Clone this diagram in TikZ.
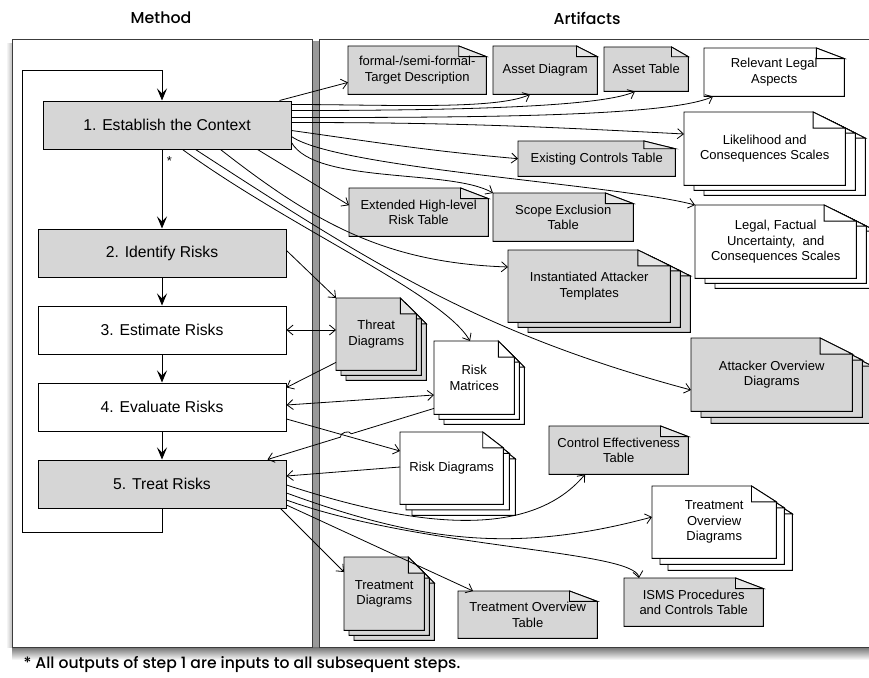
\documentclass[tikz,border=0pt]{standalone}
\usepackage{fontspec}
\setmainfont{Liberation Sans}
\newfontfamily\headfont{Poppins}[UprightFont=* Medium]
\usetikzlibrary{positioning, arrows.meta, calc, backgrounds}

\definecolor{boxgray}{HTML}{D6D6D6}
\definecolor{framegray}{HTML}{3C3C3C}

% document outline with folded corner
\newcommand{\docshape}[2]{%
  \filldraw[docline, fill=#2] (#1.south west) -- (#1.north west) -- ($(#1.north east)!0.2!(#1.north west)$) -- ($(#1.north east)!0.22!(#1.south east)$) -- (#1.south east) -- cycle;
  \filldraw[docline, fill=#2!60!white] ($(#1.north east)!0.2!(#1.north west)$) |- ($(#1.north east)!0.22!(#1.south east)$) -- cycle;
}
% three stacked documents
\newcommand{\docstack}[4]{%
  \begin{scope}[transform canvas={shift={(2*#3,-2*#4)}}]\docshape{#1}{#2}\end{scope}
  \begin{scope}[transform canvas={shift={(#3,-#4)}}]\docshape{#1}{#2}\end{scope}
  \docshape{#1}{#2}
}

\begin{document}
\begin{tikzpicture}[
    x=1pt, y=1pt,
    node distance=28pt,
    phase/.style={rectangle, draw=black, line width=1pt, fill=white, minimum width=248pt, minimum height=48pt, font=\fontsize{15.7}{18}\selectfont},
    grayphase/.style={phase, fill=boxgray},
    artifact/.style={rectangle, anchor=north west, inner sep=0pt, align=center, font=\fontsize{13}{15.5}\selectfont},
    title/.style={font=\headfont\fontsize{15.8}{19}\selectfont},
    docline/.style={draw=black, line width=0.9pt},
    flow/.style={-{Stealth[length=12pt, width=10pt, inset=5pt]}, line width=1pt},
    arrow/.style={-{Straight Barb[length=6pt, width=10pt]}, line width=0.8pt},
    dblarrow/.style={{Straight Barb[length=6pt, width=10pt]}-{Straight Barb[length=6pt, width=10pt]}, line width=0.8pt}
]
\useasboundingbox (0,0) rectangle (869,-677);

% Titles
\node[title] (methodtitle) at (161,-18) {Method};
\node[title] (artifactstitle) at (587,-18) {Artifacts};
\node[title, anchor=west, font=\headfont\fontsize{15.6}{18}\selectfont] (footnote) at (20,-665) {* All outputs of step 1 are inputs to all subsequent steps.};

% Method steps
\node[grayphase] (context) at (167,-125) {1. Establish the Context};
\node[grayphase, below=79pt of context, xshift=-5pt] (identify) {2. Identify Risks};
\node[phase, below=of identify] (estimate) {3. Estimate Risks};
\node[phase, below=of estimate] (evaluate) {4. Evaluate Risks};
\node[grayphase, below=of evaluate] (treat) {5. Treat Risks};

% Artifacts
\node[artifact, minimum width=138pt, minimum height=48pt] (targetdesc) at (348,-46) {formal-/semi-formal-\\Target Description};
\node[artifact, minimum width=104pt, minimum height=48pt] (assetdiag) at (493,-46) {Asset Diagram};
\node[artifact, minimum width=84pt, minimum height=44pt] (assettable) at (604,-47) {Asset Table};
\node[artifact, minimum width=140pt, minimum height=48pt] (legalaspects) at (704,-48) {Relevant Legal\\Aspects};
\node[artifact, minimum width=161pt, minimum height=73pt] (scales) at (684,-112) {Likelihood and\\Consequences Scales};
\node[artifact, minimum width=157pt, minimum height=35pt] (controls) at (518,-141) {Existing Controls Table};
\node[artifact, minimum width=139pt, minimum height=48pt] (hlrisk) at (349,-188) {Extended High-level\\Risk Table};
\node[artifact, minimum width=140pt, minimum height=48pt] (scope) at (493,-193) {Scope Exclusion\\Table};
\node[artifact, minimum width=161pt, minimum height=73pt] (legalscales) at (695,-205) {Legal, Factual\\Uncertainty,\ \ and\\Consequences Scales};
\node[artifact, minimum width=162pt, minimum height=72pt] (attackertpl) at (508,-250) {Instantiated Attacker\\Templates};
\node[artifact, minimum width=80pt, minimum height=72pt] (threatdiag) at (336,-298) {Threat\\Diagrams};
\node[artifact, minimum width=80pt, minimum height=73pt] (riskmatrix) at (434,-341) {Risk\\Matrices};
\node[artifact, minimum width=161pt, minimum height=73pt] (attackerov) at (691,-338) {Attacker Overview\\Diagrams};
\node[artifact, minimum width=139pt, minimum height=48pt] (controleff) at (549,-426) {Control Effectiveness\\Table};
\node[artifact, minimum width=103pt, minimum height=72pt] (riskdiag) at (400,-432) {Risk Diagrams};
\node[artifact, minimum width=124pt, minimum height=72pt] (treatov) at (652,-486) {Treatment\\Overview\\Diagrams};
\node[artifact, minimum width=139pt, minimum height=48pt] (isms) at (624,-578) {ISMS Procedures\\and Controls Table};
\node[artifact, minimum width=80pt, minimum height=73pt] (treatdiag) at (344,-557) {Treatment\\Diagrams};
\node[artifact, minimum width=139pt, minimum height=47pt] (treatovtable) at (458,-591) {Treatment Overview\\Table};

% Panels and document shapes
\begin{scope}[on background layer]
    \shade[top color=black!60, bottom color=white] (12,-646) rectangle (869,-660);
    \shade[left color=white, right color=black!25] (6,-44) rectangle (12,-647);
    \fill[black!40] (311,-41) rectangle (320,-647);
    \draw[framegray, line width=1pt, fill=white] (12,-40) rectangle (312,-647);
    \draw[framegray, line width=1pt, fill=white] (319,-40) rectangle (880,-647);
    \docshape{targetdesc}{boxgray}
    \docshape{assetdiag}{boxgray}
    \docshape{assettable}{boxgray}
    \docshape{legalaspects}{white}
    \docstack{scales}{white}{10pt}{5pt}
    \docshape{controls}{boxgray}
    \docshape{hlrisk}{boxgray}
    \docshape{scope}{boxgray}
    \docstack{legalscales}{white}{10pt}{5pt}
    \docstack{attackertpl}{boxgray}{10pt}{5pt}
    \docstack{threatdiag}{boxgray}{5pt}{5pt}
    \docstack{riskmatrix}{white}{5pt}{5pt}
    \docstack{attackerov}{boxgray}{10pt}{6pt}
    \docshape{controleff}{boxgray}
    \docstack{riskdiag}{white}{6pt}{5.5pt}
    \docstack{treatov}{white}{8pt}{6pt}
    \docshape{isms}{boxgray}
    \docstack{treatdiag}{boxgray}{5pt}{5pt}
    \docshape{treatovtable}{boxgray}
\end{scope}

% Method flow
\coordinate (loopcorner) at (22,-532);
\draw[flow] ([xshift=-5pt]context.south) -- node[pos=0.14, right=1pt, font=\fontsize{13}{15}\selectfont] {*} (identify.north);
\draw[flow] (identify) -- (estimate);
\draw[flow] (estimate) -- (evaluate);
\draw[flow] (evaluate) -- (treat);
\draw[flow, line width=0.9pt] (treat.south) |- (loopcorner) |- ([xshift=-5pt, yshift=30pt]context.north) -- ([xshift=-5pt]context.north);

% Outputs of step 1
\draw[arrow] ([xshift=-12pt]context.north east) -- ([yshift=12pt]targetdesc.south west);
\draw[arrow] ([yshift=-4pt]context.north east) to[out=0, in=205, in looseness=0.4] ([xshift=37pt]assetdiag.south west);
\draw[arrow] ([yshift=-10pt]context.north east) to[out=0, in=205, in looseness=0.3] ([xshift=31pt]assettable.south west);
\draw[arrow] ([yshift=-17pt]context.north east) to[out=0, in=205, in looseness=0.3] ([xshift=9pt]legalaspects.south west);
\draw[arrow] ([yshift=-22pt]context.north east) to[out=0, in=177] ([yshift=-22pt]scales.north west);
\draw[arrow] ([yshift=-30pt]context.north east) to[out=-8, in=175] (controls.west);
\draw[arrow] ([yshift=-36pt]context.north east) to[out=-35, in=165, out looseness=0.35, in looseness=0.5] (legalscales.north west);
\draw[arrow] ([yshift=-42pt]context.north east) to[out=-60, in=150, looseness=0.6] (scope.north west);
\draw[arrow] ([xshift=-34pt]context.south east) -- ([yshift=7pt]hlrisk.west);
\draw[arrow] ([xshift=-71pt]context.south east) to[out=-38, in=178] ([yshift=-17pt]attackertpl.north west);
\draw[arrow] ([xshift=-96pt]context.south east) to[out=-33, in=165] ([yshift=-52pt]attackerov.north west);
\draw[arrow] ([xshift=-109pt]context.south east) to[out=-36, in=120, in looseness=0.4] ([xshift=36pt]riskmatrix.north west);

% Steps 2 to 4
\draw[arrow] ([yshift=-22pt]identify.north east) -- (threatdiag.north west);
\draw[dblarrow] (estimate.east) -- (estimate.east -| threatdiag.west);
\draw[arrow] ([yshift=8pt]threatdiag.south west) -- ([yshift=-5pt]evaluate.north east);
\draw[dblarrow] ([yshift=2pt]evaluate.east) -- ([yshift=-54pt]riskmatrix.north west);
\draw[arrow] ([yshift=-12pt]evaluate.east) -- ([yshift=-19pt]riskdiag.north west);
\path ([yshift=6pt]riskmatrix.south west) coordinate (rmout) ([xshift=-19pt]treat.north east) coordinate (trin);
\draw[arrow] (rmout) -- ($(rmout)!0.497!(trin)$) to[bend right=90] ($(rmout)!0.562!(trin)$) -- (trin);
\draw[arrow] ([yshift=-35pt]riskdiag.north west) -- ([yshift=8pt]treat.east);

% Outputs of step 5
\draw[arrow] ([yshift=-1pt]treat.east) to[out=-18, in=230, in looseness=0.8] ([xshift=36pt]controleff.south west);
\draw[arrow] ([yshift=-9pt]treat.east) to[out=-20, in=195] ([yshift=-31pt]treatov.north west);
\draw[arrow] ([yshift=-16pt]treat.east) to[out=-20, in=100, in looseness=0.2] ([xshift=15pt]isms.north west);
\draw[arrow] ([yshift=-21pt]treat.east) -- ([xshift=15pt]treatovtable.north west);
\draw[arrow] ([xshift=-6pt]treat.south east) -- ([yshift=-15pt]treatdiag.north west);

\end{tikzpicture}
\end{document}
